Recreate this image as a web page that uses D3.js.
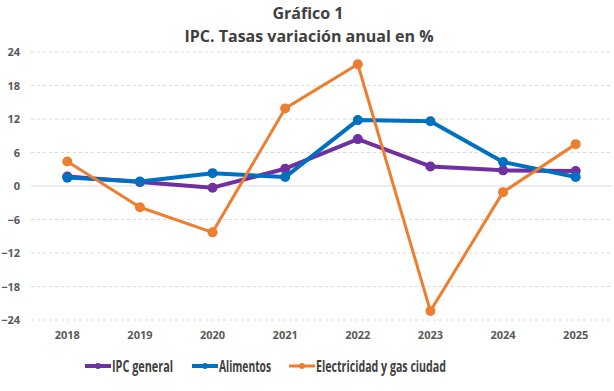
<!DOCTYPE html>
<html><head><meta charset="utf-8">
<script src="https://cdn.jsdelivr.net/npm/d3@7"></script>
<style>body{margin:0;background:#fff}svg{display:block;font-family:"Open Sans","Noto Sans",sans-serif}</style>
</head><body><svg id="c" width="614" height="391"></svg>
<script>
const years = ["2018","2019","2020","2021","2022","2023","2024","2025"];
const ipcGeneral = [1.7, 0.7, -0.3, 3.1, 8.4, 3.5, 2.8, 2.7];
const alimentos = [1.5, 0.8, 2.3, 1.6, 11.8, 11.6, 4.3, 1.6];
const electricidad = [4.4, -3.8, -8.3, 13.9, 21.8, -22.4, -1.1, 7.5];
const yTicks = [24, 18, 12, 6, 0, -6, -12, -18, -24];
const seriesNames = ["IPC general", "Alimentos", "Electricidad y gas ciudad"];
const colors = ["#7030A0", "#0070C0", "#ED7D31"];
const widths = [4, 4, 3];

(function () {
const svg = d3.select("#c");
const pL = 31, pR = 612, pT = 52, pB = 320;
const x = d3.scaleBand().domain(years).range([pL, pR]);
const y = d3.scaleLinear().domain([-24, 24]).range([pB, pT]);

svg.append("text").attr("x", 308).attr("y", 19).attr("text-anchor", "middle")
  .attr("font-size", 16).attr("font-weight", "bold").attr("fill", "#404040").text("Gráfico 1");
svg.append("text").attr("x", 309).attr("y", 42).attr("text-anchor", "middle")
  .attr("font-size", 16).attr("font-weight", "bold").attr("fill", "#404040").text("IPC. Tasas variación anual en %");

svg.append("g").selectAll("line").data(yTicks).join("line")
  .attr("x1", pL).attr("x2", pR).attr("y1", d => y(d)).attr("y2", d => y(d))
  .attr("stroke", "#d9d9d9").attr("stroke-width", 1)
  .attr("stroke-dasharray", d => d === 0 ? null : "3,3");

const yAxis = d3.axisLeft(y).tickValues(yTicks).tickSize(0).tickPadding(0);
const ya = svg.append("g").attr("transform", "translate(20,0)").call(yAxis);
ya.select(".domain").remove();
ya.selectAll("text").attr("font-size", 11).attr("font-weight", "bold").attr("fill", "#595959")
  .attr("font-family", "'Open Sans','Noto Sans',sans-serif");

const xAxis = d3.axisBottom(x).tickSize(0).tickPadding(0);
const xa = svg.append("g").attr("transform", "translate(0,331)").call(xAxis);
xa.select(".domain").remove();
xa.selectAll("text").attr("font-size", 11).attr("font-weight", "bold").attr("fill", "#595959")
  .attr("font-family", "'Open Sans','Noto Sans',sans-serif");

const data = [ipcGeneral, alimentos, electricidad];
const cx = d => x(d) + x.bandwidth() / 2;
const line = d3.line().x((d, i) => cx(years[i])).y(d => y(d));
[0, 1, 2].forEach(s => {
  const g = svg.append("g");
  g.append("path").datum(data[s]).attr("d", line).attr("fill", "none")
    .attr("stroke", colors[s]).attr("stroke-width", widths[s]).attr("stroke-linejoin", "round");
  g.selectAll("circle").data(data[s]).join("circle")
    .attr("cx", (d, i) => cx(years[i])).attr("cy", d => y(d)).attr("r", 5).attr("fill", colors[s]);
});

const legX = [85, 192, 289];
const legW = [61, 52, 130];
const leg = svg.append("g");
seriesNames.forEach((n, i) => {
  const lx = legX[i], ly = 366;
  leg.append("line").attr("x1", lx).attr("x2", lx + 26).attr("y1", ly).attr("y2", ly)
    .attr("stroke", colors[i]).attr("stroke-width", widths[i]);
  leg.append("circle").attr("cx", lx + 13).attr("cy", ly).attr("r", 3).attr("fill", colors[i]);
  leg.append("text").attr("x", lx + 27).attr("y", ly + 5.5).attr("font-size", 15.5).attr("font-weight", "bold")
    .attr("font-family", "'Liberation Sans Narrow','Open Sans',sans-serif")
    .attr("textLength", legW[i]).attr("lengthAdjust", "spacingAndGlyphs")
    .attr("fill", "#404040").text(n);
});
})();
</script></body></html>
